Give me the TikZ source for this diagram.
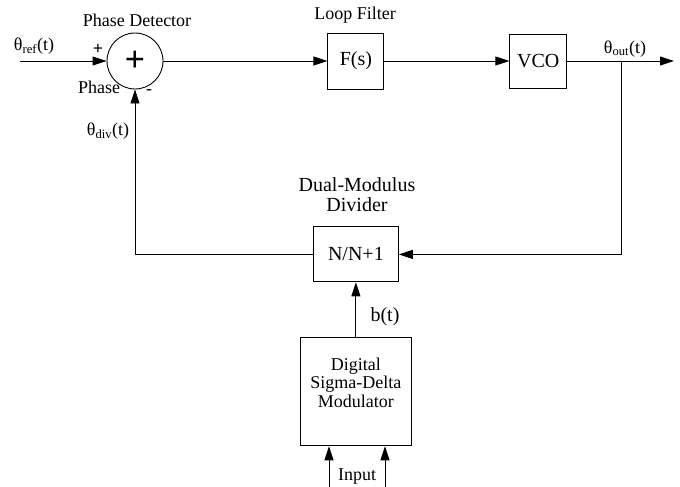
\documentclass[tikz,border=0pt]{standalone}
\usepackage{fontspec}
\setmainfont{Liberation Serif}
\usetikzlibrary{positioning,arrows.meta}

\begin{document}
\begin{tikzpicture}[x=1pt, y=-1pt,
  node distance=10pt,
  blk/.style={draw, line width=0.9pt, inner sep=0pt, align=center, font=\fontsize{20}{22}\selectfont},
  lbl/.style={inner sep=0pt, align=center, font=\fontsize{18}{19}\selectfont},
  flow/.style={line width=0.9pt, -{Triangle[length=14pt,width=9pt]}}
]
\useasboundingbox (0,0) rectangle (680,487);

% forward path
\node[draw, circle, line width=0.9pt, minimum size=56pt, inner sep=0pt, font=\fontsize{36}{36}\selectfont\bfseries] (sum) at (135,61) {+};
\node[blk, minimum width=56pt, minimum height=56pt, right=164pt of sum] (filt) {F(s)};
\node[blk, minimum width=57pt, minimum height=54pt, right=125pt of filt] (vco) {VCO};

% feedback path
\node[blk, minimum width=85pt, minimum height=55pt, below=137pt of filt] (div) {N/N+1};
\node[blk, minimum width=111pt, minimum height=108pt, below=55pt of div, font=\fontsize{18}{18.5}\selectfont] (sdm) {Digital\\Sigma-Delta\\Modulator\\\mbox{}};

\coordinate (in) at (20,61);
\coordinate (out) at (674,61);
\coordinate (tap) at (621,61);
\coordinate (inl) at (329,487);
\coordinate (inr) at (385,487);

\draw[flow] (in) -- (sum.west);
\draw[flow] (sum) -- (filt);
\draw[flow] (filt) -- (vco);
\draw[flow] (vco) -- (out);
\draw[flow] (tap) |- (div.east);
\draw[flow] (div.west) -| (sum.south);
\draw[flow] (sdm) -- (div);
\draw[flow] (inl) -- (inl |- sdm.south);
\draw[flow] (inr) -- (inr |- sdm.south);

% labels
\node[lbl] (pdlbl) at (137,20) {Phase Detector};
\node[lbl] (lflbl) at (355,15) {Loop Filter};
\node[lbl, font=\fontsize{20}{20}\selectfont] (divlbl) at (357,195) {Dual-Modulus\\Divider};
\node[lbl] (ref) at (34,46) {θ\textsubscript{ref}(t)};
\node[lbl] (outlbl) at (625,49) {θ\textsubscript{out}(t)};
\node[lbl] (divsig) at (108,131) {θ\textsubscript{div}(t)};
\node[lbl, font=\fontsize{18}{19}\selectfont\bfseries] (plus) at (98,49) {+};
\node[lbl] (minus) at (149,92) {-};
\node[lbl] (phase) at (99,87) {Phase};
\node[lbl, font=\fontsize{20}{20}\selectfont] (blbl) at (385,317) {b(t)};
\node[lbl] (inlbl) at (357,477) {Input};
\end{tikzpicture}
\end{document}
